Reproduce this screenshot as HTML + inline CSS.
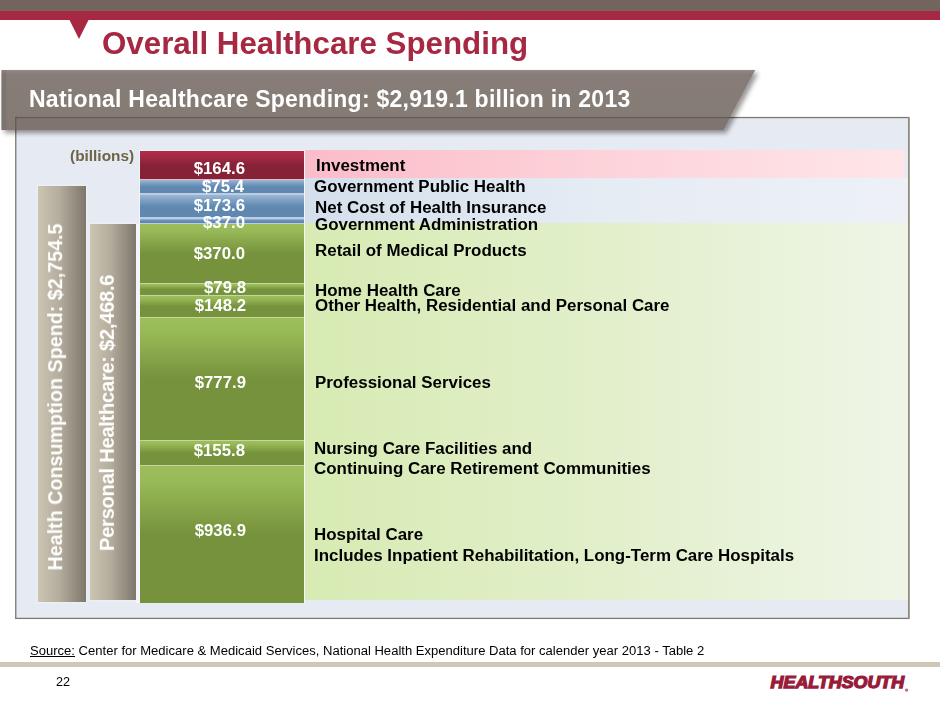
<!DOCTYPE html>
<html>
<head>
<meta charset="utf-8">
<title>Overall Healthcare Spending</title>
<style>
html,body{margin:0;padding:0;}
body{width:940px;height:705px;position:relative;overflow:hidden;background:#fff;font-family:"Liberation Sans",sans-serif;}
.abs{position:absolute;}
.val,.lab,.vtext,#title,#bannertext,#billions,#source,#pageno{will-change:transform;}
#topbrown{left:0;top:0;width:940px;height:11px;background:#73655d;}
#topred{left:0;top:11px;width:940px;height:9px;background:#a72843;}
#title{left:101.9px;top:25.6px;font-size:31.3px;font-weight:bold;color:#a72843;white-space:nowrap;line-height:36px;}
#frame{left:16px;top:117px;width:892px;height:500px;background:#e6eaf2;border:1px solid #7b7568;box-shadow:1px 1px 2px rgba(0,0,0,0.25);}
#bannertext{left:29.2px;top:84.4px;letter-spacing:0.25px;font-size:23px;font-weight:bold;color:#fff;white-space:nowrap;line-height:30px;}
.band{left:304.9px;width:603px;}
#pink{top:150px;height:28.4px;width:600.2px;background:linear-gradient(90deg,#fbbcc9 0%,#fdd3da 50%,#fee6e8 100%);}
#blueband{top:178.4px;height:44.2px;background:linear-gradient(90deg,#d3dfeb 0%,#e6ecf4 50%,#edf1f7 100%);}
#greenband{top:222.6px;height:377.7px;background:linear-gradient(90deg,#d7ebb3 0%,#e2efcb 50%,#eff5e7 100%);}
.tan{background:linear-gradient(90deg,#cdc5b3 0%,#b4ac9c 45%,#7d776c 100%);box-shadow:0 0 2px 1px rgba(255,255,255,0.4);}
#bar1{left:38.1px;top:186px;width:47.8px;height:415.6px;}
#bar2{left:90.3px;top:224.3px;width:46.1px;height:375.7px;}
.vtext{color:#fff;font-weight:bold;white-space:nowrap;transform:translate(-50%,-50%) rotate(-90deg);transform-origin:50% 50%;line-height:1;}
.blk{left:140.1px;width:163.6px;}
.g{background:linear-gradient(180deg,#9dbe5b 0%,#98b957 12%,#76923c 50%,#76923c 100%);}
.b{background:linear-gradient(180deg,#9db7d4 0%,#7d9fc3 25%,#6089b2 52%,#5f87b0 100%);}
.r{background:linear-gradient(180deg,#b22c4b 0%,#a32945 22%,#872238 50%,#852236 100%);}
.val{color:#fff;font-weight:bold;font-size:16.8px;white-space:nowrap;line-height:17px;text-align:right;width:120px;left:126px;}
.lab{color:#000;font-weight:bold;font-size:16.93px;white-space:nowrap;line-height:1;}
#billions{left:69.7px;top:148.2px;font-size:15.4px;font-weight:bold;color:#6d6547;white-space:nowrap;line-height:1;}
#source{left:30px;top:644px;font-size:13.06px;color:#000;white-space:nowrap;line-height:1;}
#tanline{left:0;top:662px;width:940px;height:5px;background:#cfc6b5;}
#pageno{left:55.5px;top:676px;font-size:12.6px;color:#000;line-height:1;}
#logo{left:769px;top:673px;font-size:18px;font-weight:bold;font-style:italic;color:#981b3a;letter-spacing:-1.5px;white-space:nowrap;line-height:1;transform-origin:0 0;}
</style>
</head>
<body>
<div class="abs" id="topbrown"></div>
<div class="abs" id="topred"></div>
<svg class="abs" style="left:0;top:0" width="940" height="140">
  <polygon points="69,19 89,19 79,39" fill="#a72843"/>
</svg>
<div class="abs" id="title">Overall Healthcare Spending</div>

<svg class="abs" style="left:0;top:100px" width="940" height="540">
  <rect x="15.75" y="17.55" width="893.1" height="500.85" fill="#e6eaf3" stroke="#7f7969" stroke-width="1.3"/>
  <rect x="908.2" y="18.2" width="1.3" height="500" fill="#8d8a7c"/>
</svg>

<div class="abs band" id="pink"></div>
<div class="abs band" id="blueband"></div>
<div class="abs band" id="greenband"></div>

<svg class="abs" style="left:0;top:60px" width="800" height="90">
  <defs>
    <linearGradient id="bg" x1="0" y1="0" x2="0" y2="1">
      <stop offset="0" stop-color="#958a85"/>
      <stop offset="0.07" stop-color="#877c77"/>
      <stop offset="1" stop-color="#857a75"/>
    </linearGradient>
    <filter id="sh" x="-5%" y="-20%" width="110%" height="150%">
      <feGaussianBlur in="SourceAlpha" stdDeviation="2.4"/>
      <feOffset dx="3" dy="3"/>
      <feComponentTransfer><feFuncA type="linear" slope="0.42"/></feComponentTransfer>
      <feMerge><feMergeNode/><feMergeNode in="SourceGraphic"/></feMerge>
    </filter>
  </defs>
  <polygon points="1.4,10 755.3,10 723.4,70.1 1.4,70.1" fill="url(#bg)" filter="url(#sh)"/>
  <rect x="1.4" y="10" width="5" height="60.1" fill="#000" opacity="0.06"/>
  <polygon points="15.1,56.9 730.4,56.9 723.4,70.1 15.1,70.1" fill="#7b706b" opacity="0.55"/>
  <rect x="15.1" y="56.9" width="715.3" height="1.3" fill="#5e554f" opacity="0.8"/>
  <rect x="15.1" y="56.9" width="1.3" height="13.2" fill="#5e554f" opacity="0.8"/>
</svg>
<div class="abs" id="bannertext">National Healthcare Spending: $2,919.1 billion in 2013</div>

<div class="abs" id="billions">(billions)</div>

<div class="abs tan" id="bar1"></div>
<div class="abs tan" id="bar2"></div>
<div class="abs vtext" style="left:55.9px;top:396.7px;font-size:19.72px;">Health Consumption Spend: $2,754.5</div>
<div class="abs vtext" style="left:107px;top:413.3px;font-size:20.3px;letter-spacing:-0.35px;">Personal Healthcare: $2,468.6</div>

<div class="abs" style="left:136.3px;top:224px;width:4px;height:378.7px;background:#f3f5fa;"></div>
<div class="abs" style="left:138.8px;top:150.3px;width:166.4px;height:453px;background:#f3f5f9;"></div>
<div class="abs" style="left:140.1px;top:178.5px;width:163.6px;height:2px;background:#e3b9c3;"></div>
<div class="abs" style="left:140.1px;top:180.5px;width:163.6px;height:43.5px;background:#bccfe2;"></div>
<div class="abs" style="left:140.1px;top:224px;width:163.6px;height:378px;background:#c3d79f;"></div>
<div class="abs blk r" style="top:151.3px;height:27.5px;"></div>
<div class="abs blk b" style="top:179.7px;height:13px;"></div>
<div class="abs blk b" style="top:194.9px;height:22.4px;"></div>
<div class="abs blk b" style="top:219px;height:4px;"></div>
<div class="abs blk g" style="top:223.8px;height:58.9px;"></div>
<div class="abs blk g" style="top:283.7px;height:11.2px;"></div>
<div class="abs blk g" style="top:295.9px;height:20.7px;"></div>
<div class="abs blk g" style="top:317.6px;height:122.4px;"></div>
<div class="abs blk g" style="top:441px;height:23.8px;"></div>
<div class="abs blk g" style="top:465.8px;height:136.9px;"></div>

<div class="abs val" style="top:160px;left:125.1px;">$164.6</div>
<div class="abs val" style="top:178px;left:124.1px;">$75.4</div>
<div class="abs val" style="top:197px;left:125.1px;">$173.6</div>
<div class="abs val" style="top:214px;left:124.6px;">$37.0</div>
<div class="abs val" style="top:245px;left:124.8px;">$370.0</div>
<div class="abs val" style="top:279px;left:126.3px;">$79.8</div>
<div class="abs val" style="top:297px;left:126.3px;">$148.2</div>
<div class="abs val" style="top:374px;left:126.3px;">$777.9</div>
<div class="abs val" style="top:442px;left:125.1px;">$155.8</div>
<div class="abs val" style="top:522px;left:126.3px;">$936.9</div>

<div class="abs lab" style="left:316px;top:158px;">Investment</div>
<div class="abs lab" style="left:314px;top:179px;">Government Public Health</div>
<div class="abs lab" style="left:315px;top:200px;">Net Cost of Health Insurance</div>
<div class="abs lab" style="left:315px;top:217px;">Government Administration</div>
<div class="abs lab" style="left:315px;top:243px;">Retail of Medical Products</div>
<div class="abs lab" style="left:315px;top:283px;">Home Health Care</div>
<div class="abs lab" style="left:315px;top:298px;">Other Health, Residential and Personal Care</div>
<div class="abs lab" style="left:315px;top:375px;">Professional Services</div>
<div class="abs lab" style="left:314px;top:441px;">Nursing Care Facilities and</div>
<div class="abs lab" style="left:314px;top:461px;">Continuing Care Retirement Communities</div>
<div class="abs lab" style="left:314px;top:527px;">Hospital Care</div>
<div class="abs lab" style="left:314px;top:548px;">Includes Inpatient Rehabilitation, Long-Term Care Hospitals</div>

<div class="abs" id="source"><span style="text-decoration:underline">Source:</span> Center for Medicare &amp; Medicaid Services, National Health Expenditure Data for calender year 2013 - Table 2</div>
<div class="abs" id="tanline"></div>
<div class="abs" id="pageno">22</div>
<svg class="abs" style="left:740px;top:660px" width="200" height="45">
  <text x="30.6" y="28.1" font-family="Liberation Sans, sans-serif" font-size="16.3" font-weight="bold" font-style="italic" fill="#981b3a" stroke="#981b3a" stroke-width="1.25" stroke-linejoin="miter" textLength="133.6" lengthAdjust="spacingAndGlyphs">HEALTHSOUTH</text>
  <circle cx="166.6" cy="30.1" r="1.7" fill="#c76c85"/>
</svg>
</body>
</html>
